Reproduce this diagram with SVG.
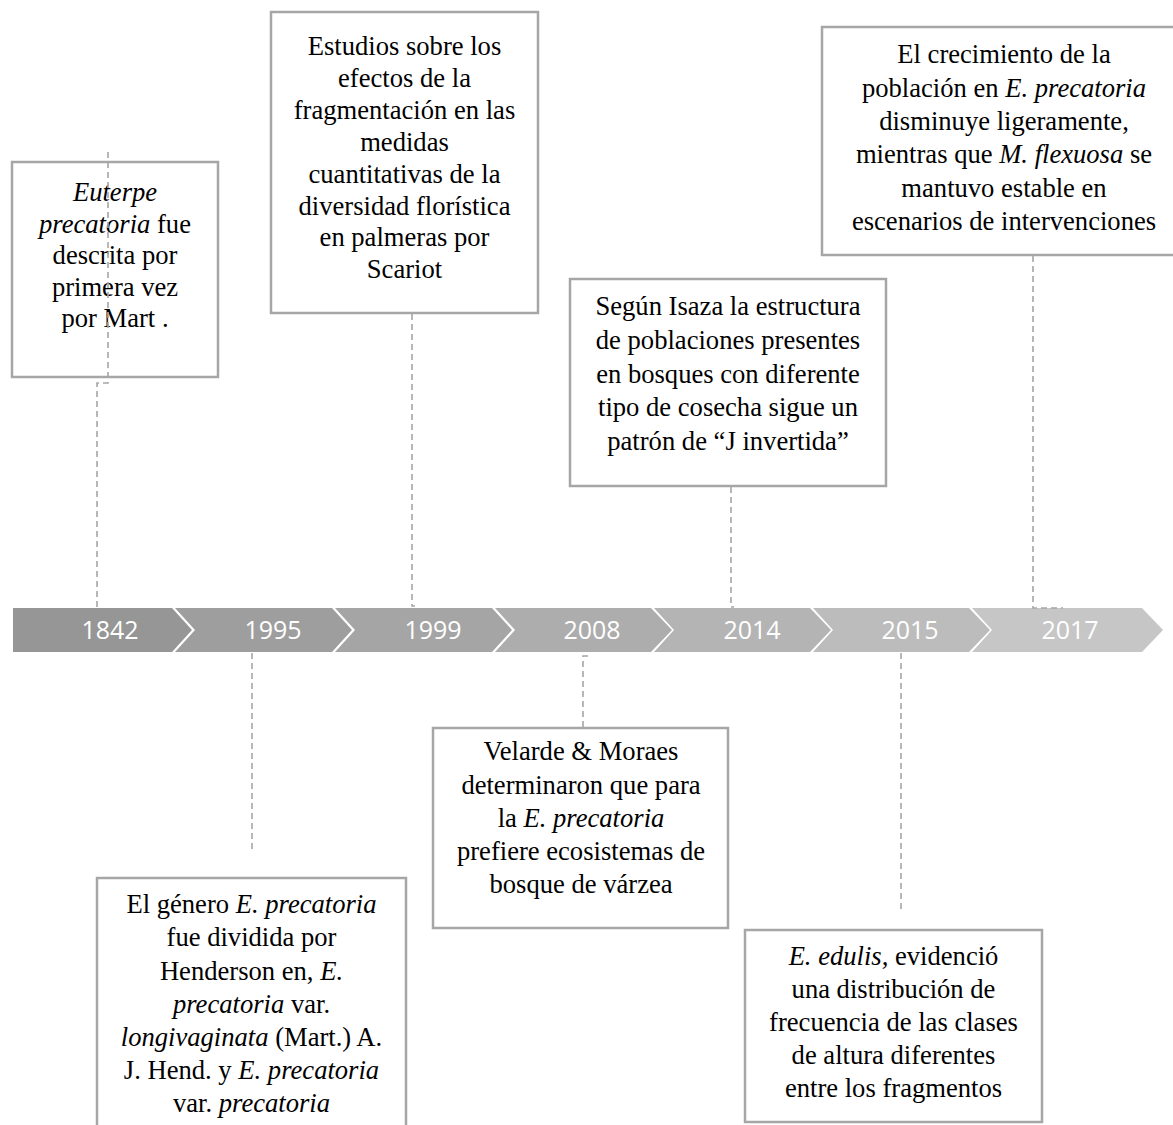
<svg xmlns="http://www.w3.org/2000/svg" width="1173" height="1125" viewBox="0 0 1173 1125">
<style>
.box{fill:#ffffff;stroke:#a6a6a6;stroke-width:2.5}
.t{font-family:"Liberation Serif","Times New Roman",serif;font-size:26.6px;fill:#000;text-anchor:middle}
.i{font-style:italic}
.yr{font-family:"Open Sans","Liberation Sans",sans-serif;font-size:25px;fill:#ffffff;text-anchor:middle}
.con{fill:none;stroke:#a6a6a6;stroke-width:1.6;stroke-dasharray:6 4}
.chev{stroke:none}
</style>
<rect width="1173" height="1125" fill="#ffffff"/>
<g id="timeline">
<g id="y1842"><path class="chev" fill="#969696" d="M13,608 H172 L192,630 L172,652 H13 Z"/><text class="yr" x="110" y="639">1842</text></g>
<g id="y1995"><path class="chev" fill="#9e9e9e" d="M175,608 H332 L352,630 L332,652 H175 L195,630 Z"/><text class="yr" x="273" y="639">1995</text></g>
<g id="y1999"><path class="chev" fill="#a5a5a5" d="M335,608 H492 L512,630 L492,652 H335 L355,630 Z"/><text class="yr" x="433" y="639">1999</text></g>
<g id="y2008"><path class="chev" fill="#adadad" d="M495,608 H651 L672,630 L651,652 H495 L515,630 Z"/><text class="yr" x="592" y="639">2008</text></g>
<g id="y2014"><path class="chev" fill="#b4b4b4" d="M654,608 H810 L831,630 L810,652 H654 L674,630 Z"/><text class="yr" x="752" y="639">2014</text></g>
<g id="y2015"><path class="chev" fill="#bcbcbc" d="M813,608 H969 L990,630 L969,652 H813 L833,630 Z"/><text class="yr" x="910" y="639">2015</text></g>
<g id="y2017"><path class="chev" fill="#c6c6c6" d="M972,608 H1142 L1163,630 L1142,652 H972 L992,630 Z"/><text class="yr" x="1070" y="639">2017</text></g>
</g>
<g id="box1842">
<rect class="box" x="12" y="162" width="206" height="215"/>
<text class="t"><tspan x="115" y="201" class="i">Euterpe</tspan><tspan x="115" y="232.5"><tspan class="i">precatoria</tspan> fue</tspan><tspan x="115" y="264">descrita por</tspan><tspan x="115" y="295.5">primera vez</tspan><tspan x="115" y="327">por Mart .</tspan></text>
</g>
<g id="box1999">
<rect class="box" x="271" y="12" width="267" height="301"/>
<text class="t"><tspan x="404.5" y="55">Estudios sobre los</tspan><tspan x="404.5" y="87">efectos de la</tspan><tspan x="404.5" y="119">fragmentación en las</tspan><tspan x="404.5" y="150.5">medidas</tspan><tspan x="404.5" y="182.5">cuantitativas de la</tspan><tspan x="404.5" y="214.5">diversidad florística</tspan><tspan x="404.5" y="246">en palmeras por</tspan><tspan x="404.5" y="278">Scariot</tspan></text>
</g>
<g id="box2017">
<rect class="box" x="822" y="27" width="366" height="228"/>
<text class="t"><tspan x="1004" y="63">El crecimiento de la</tspan><tspan x="1004" y="96.5">población en <tspan class="i">E. precatoria</tspan></tspan><tspan x="1004" y="130">disminuye ligeramente,</tspan><tspan x="1004" y="163">mientras que <tspan class="i">M. flexuosa</tspan> se</tspan><tspan x="1004" y="196.5">mantuvo estable en</tspan><tspan x="1004" y="230">escenarios de intervenciones</tspan></text>
</g>
<g id="box2014">
<rect class="box" x="570" y="279" width="316" height="207"/>
<text class="t"><tspan x="728" y="315">Según Isaza la estructura</tspan><tspan x="728" y="349">de poblaciones presentes</tspan><tspan x="728" y="382.5">en bosques con diferente</tspan><tspan x="728" y="416">tipo de cosecha sigue un</tspan><tspan x="728" y="450">patrón de “J invertida”</tspan></text>
</g>
<g id="box1995">
<rect class="box" x="97" y="878" width="309" height="260"/>
<text class="t"><tspan x="251.5" y="913">El género <tspan class="i">E. precatoria</tspan></tspan><tspan x="251.5" y="946">fue dividida por</tspan><tspan x="251.5" y="979.5">Henderson en, <tspan class="i">E.</tspan></tspan><tspan x="251.5" y="1012.5"><tspan class="i">precatoria</tspan> var.</tspan><tspan x="251.5" y="1046"><tspan class="i">longivaginata</tspan> (Mart.) A.</tspan><tspan x="251.5" y="1079">J. Hend. y <tspan class="i">E. precatoria</tspan></tspan><tspan x="251.5" y="1112">var. <tspan class="i">precatoria</tspan></tspan></text>
</g>
<g id="box2008">
<rect class="box" x="433" y="728" width="295" height="200"/>
<text class="t"><tspan x="581" y="760">Velarde &amp; Moraes</tspan><tspan x="581" y="793.5">determinaron que para</tspan><tspan x="581" y="827">la <tspan class="i">E. precatoria</tspan></tspan><tspan x="581" y="860">prefiere ecosistemas de</tspan><tspan x="581" y="893">bosque de várzea</tspan></text>
</g>
<g id="box2015">
<rect class="box" x="745" y="930" width="297" height="192"/>
<text class="t"><tspan x="893.5" y="965"><tspan class="i">E. edulis,</tspan> evidenció</tspan><tspan x="893.5" y="998">una distribución de</tspan><tspan x="893.5" y="1031">frecuencia de las clases</tspan><tspan x="893.5" y="1064">de altura diferentes</tspan><tspan x="893.5" y="1097">entre los fragmentos</tspan></text>
</g>
<g id="connectors">
<path class="con" d="M108,152 V383 H97 V608"/>
<path class="con" d="M412,314 V606 H415"/>
<path class="con" d="M1033,256 V608 H1063"/>
<path class="con" d="M731,487 V607 H734"/>
<path class="con" d="M252,653 V853"/>
<path class="con" d="M583,727 V656 H589"/>
<path class="con" d="M901,653 V913"/>
</g>
</svg>
